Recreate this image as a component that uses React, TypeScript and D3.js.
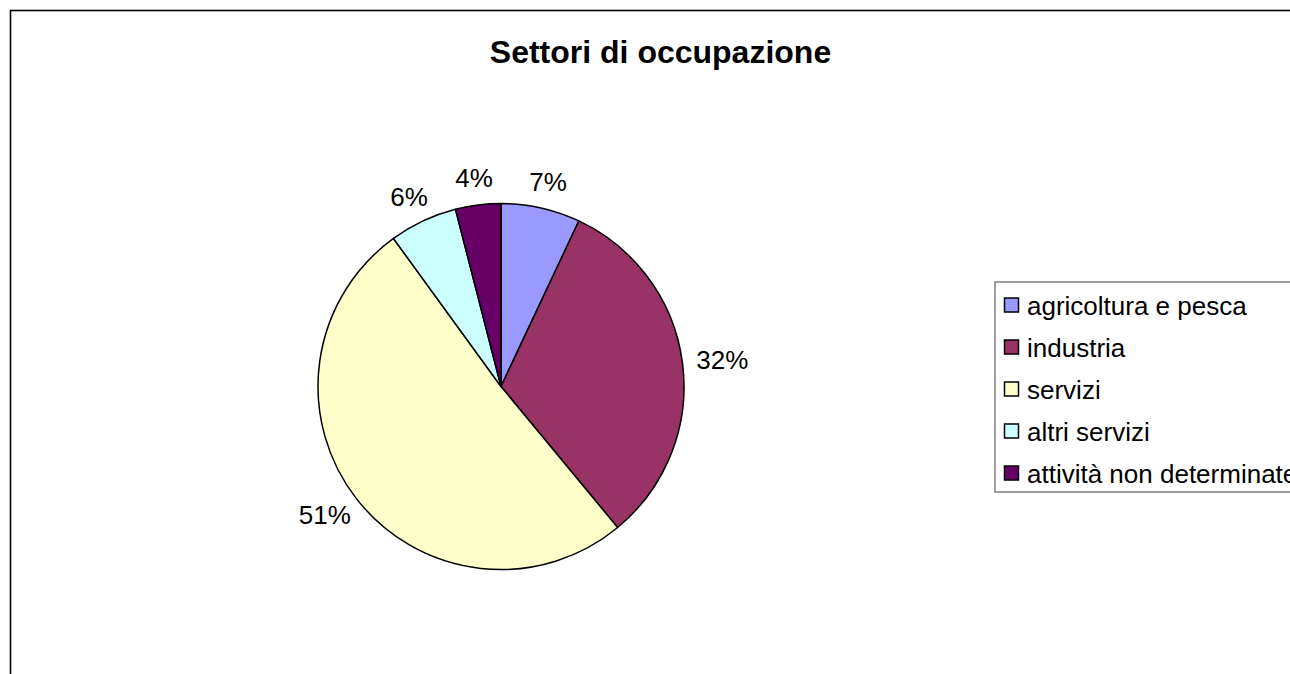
import React from "react";
import * as d3 from "d3";

const categories = ["agricoltura e pesca", "industria", "servizi", "altri servizi", "attività non determinate"];
const values = [7, 32, 51, 6, 4];
const colors = ["#9999FF", "#993366", "#FFFFCC", "#CCFFFF", "#660066"];
const title = "Settori di occupazione";

const W = 1290;
const H = 674;
const cx = 501;
const cy = 386.5;
const R = 183;
const FONT = "Liberation Sans, Arial, Helvetica, sans-serif";

export default function App() {
  const total = d3.sum(values);
  const pie = d3.pie<number>().value((d) => d).sort(null);
  const arcs = pie(values);
  const arcGen = d3.arc<d3.PieArcDatum<number>>().innerRadius(0).outerRadius(R);
  const fmt = (v: number) => `${Math.round((v / total) * 100)}%`;
  const legendRows = d3.scalePoint<string>().domain(categories).range([305, 473]);

  const gap = 14;
  const halfH = 13;
  const charW = 0.556 * 26;

  return (
    <svg
      width={W}
      height={H}
      style={{ position: "absolute", left: 0, top: 0, background: "#fff" }}
      fontFamily={FONT}
    >
      <rect x={10.5} y={10.5} width={1400} height={800} fill="#fff" stroke="#000" strokeWidth={1.6} />
      <text x={660.5} y={63} textAnchor="middle" fontSize={32} fontWeight="bold" fill="#000">
        {title}
      </text>
      <g transform={`translate(${cx},${cy})`}>
        {arcs.map((a, i) => (
          <path key={i} d={arcGen(a) || ""} fill={colors[i]} stroke="#000" strokeWidth={1.5} strokeLinejoin="round" />
        ))}
        {arcs.map((a, i) => {
          const mid = (a.startAngle + a.endAngle) / 2;
          const s = Math.sin(mid);
          const c = Math.cos(mid);
          const label = fmt(a.data);
          const w = (label.length - 1) * charW + 0.889 * 26;
          const x = (R + gap) * s + (w / 2) * s;
          const y = -(R + gap) * c - halfH * c;
          return (
            <text key={"l" + i} x={x} y={y} textAnchor="middle" dominantBaseline="central" fontSize={26} fill="#000">
              {label}
            </text>
          );
        })}
      </g>
      <rect x={995} y={282} width={400} height={210} fill="#fff" stroke="#808080" strokeWidth={1.5} />
      {categories.map((cat, i) => {
        const y = legendRows(cat) as number;
        return (
          <g key={cat}>
            <rect x={1004.5} y={y - 7} width={14} height={14} fill={colors[i]} stroke="#000" strokeWidth={1.5} />
            <text x={1027} y={y + 1} dominantBaseline="central" fontSize={26} fill="#000">
              {cat}
            </text>
          </g>
        );
      })}
    </svg>
  );
}
